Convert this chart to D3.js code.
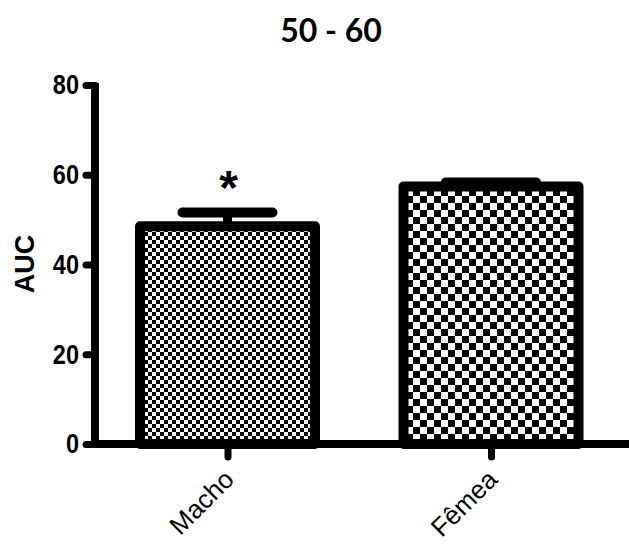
<!DOCTYPE html>
<html><head><meta charset="utf-8">
<script src="https://cdn.jsdelivr.net/npm/d3@7"></script>
<style>body{margin:0;background:#fff}svg{display:block}</style>
</head><body>
<script>
const categories = ["Macho", "Fêmea"];
const means = [48.5, 57.4];
const sems = [3.1, 0.9];
const yTicks = [0, 20, 40, 60, 80];
const significance = ["*", ""];
const title = "50 - 60";
const yLabel = "AUC";

const W = 629, H = 546;
const svg = d3.select("body").append("svg").attr("width", W).attr("height", H);

const y = d3.scaleLinear().domain([0, 80]).range([444, 85]);
const x = d3.scalePoint().domain(categories).range([227.5, 491]);
const barW = 175;

const defs = svg.append("defs");
const pats = [{id: "p0", s: 4}, {id: "p1", s: 7}];
pats.forEach(p => {
  const pt = defs.append("pattern").attr("id", p.id).attr("patternUnits", "userSpaceOnUse")
    .attr("width", p.s * 2).attr("height", p.s * 2);
  pt.append("rect").attr("width", p.s * 2).attr("height", p.s * 2).attr("fill", "#fff");
  pt.append("rect").attr("width", p.s).attr("height", p.s).attr("fill", "#000");
  pt.append("rect").attr("x", p.s).attr("y", p.s).attr("width", p.s).attr("height", p.s).attr("fill", "#000");
});

// title
svg.append("text").attr("x", 331).attr("y", 42).attr("text-anchor", "middle")
  .style("font-family", "Lato").style("font-weight", "bold").style("font-size", "32px")
  .text(title);

// y label
svg.append("text").attr("transform", "translate(34,264) rotate(-90)").attr("text-anchor", "middle")
  .style("font-family", "Liberation Sans, Arial").style("font-weight", "bold").style("font-size", "27px")
  .text(yLabel);

// bars
const g = svg.append("g");
categories.forEach((c, i) => {
  const cx = x(c);
  g.append("line").attr("x1", cx).attr("x2", cx).attr("y1", y(means[i])).attr("y2", y(means[i] + sems[i]))
    .attr("stroke", "#000").attr("stroke-width", 9);
  g.append("line").attr("x1", cx - 45).attr("x2", cx + 45).attr("y1", y(means[i] + sems[i])).attr("y2", y(means[i] + sems[i]))
    .attr("stroke", "#000").attr("stroke-width", 10).attr("stroke-linecap", "round");
  g.append("rect").attr("x", cx - barW / 2).attr("width", barW)
    .attr("y", y(means[i])).attr("height", y(0) - y(means[i]))
    .attr("fill", `url(#p${i})`).attr("stroke", "#000").attr("stroke-width", 10).attr("stroke-linejoin", "round");
  if (significance[i]) {
    g.append("text").attr("x", cx + 1).attr("y", y(means[i] + sems[i]) - 8).attr("text-anchor", "middle")
      .style("font-family", "Liberation Sans, Arial").style("font-weight", "bold").style("font-size", "48px")
      .text(significance[i]);
  }
});

// y axis
const sx = 0.84;
const yAxis = svg.append("g").attr("transform", "translate(95,0)")
  .call(d3.axisLeft(y).tickValues(yTicks).tickSize(10).tickPadding(6).tickFormat(d3.format("d")));
yAxis.select(".domain").remove();
yAxis.selectAll(".tick line").attr("stroke", "#000").attr("stroke-width", 7).attr("stroke-linecap", "round").attr("x2", -9);
yAxis.selectAll(".tick text").attr("fill", "#000")
  .attr("x", -16 / sx).attr("transform", `scale(${sx},1)`)
  .style("font-family", "Liberation Sans, Arial").style("font-weight", "bold").style("font-size", "28px");
svg.append("line").attr("x1", 95).attr("x2", 95).attr("y1", y(80) - 2).attr("y2", y(0))
  .attr("stroke", "#000").attr("stroke-width", 8);

// x axis
const xAxis = svg.append("g").attr("transform", `translate(0,${y(0)})`)
  .call(d3.axisBottom(x).tickSize(13).tickFormat(""));
xAxis.select(".domain").remove();
xAxis.selectAll(".tick line").attr("stroke", "#000").attr("stroke-width", 7).attr("stroke-linecap", "round");
svg.append("line").attr("x1", 91).attr("x2", W).attr("y1", y(0)).attr("y2", y(0))
  .attr("stroke", "#000").attr("stroke-width", 8);

categories.forEach(c => {
  svg.append("text").attr("transform", `translate(${x(c) + 8},${481}) rotate(-45)`)
    .attr("text-anchor", "end")
    .style("font-family", "Liberation Sans, Arial").style("font-size", "26px")
    .text(c);
});
</script>
</body></html>
